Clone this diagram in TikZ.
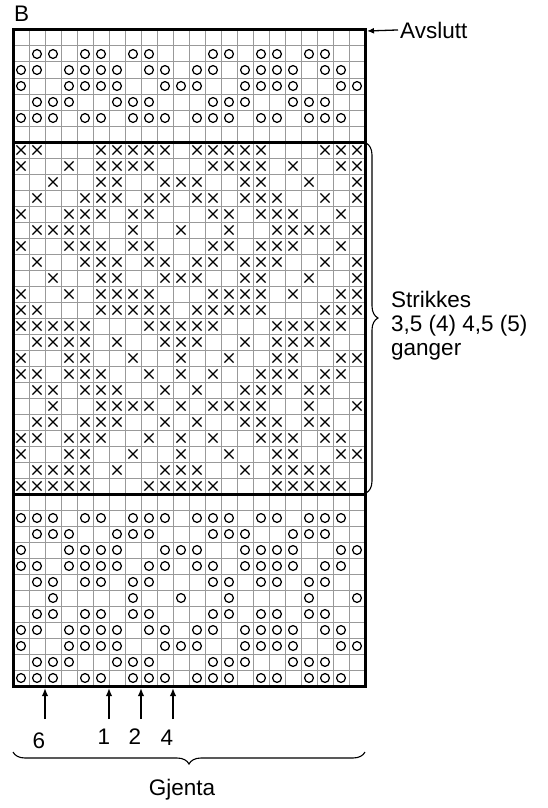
\documentclass[tikz,border=0pt]{standalone}
\usepackage{fontspec}
\setmainfont{Liberation Sans}
\usetikzlibrary{arrows.meta,decorations.pathreplacing}
\begin{document}
\begin{tikzpicture}[x=1pt,y=-1pt,
  gridline/.style={draw=black!40, line width=1pt},
  frame/.style={draw=black, line width=3pt},
  sym/.style={draw=black, line width=1.25pt},
  lbl/.style={inner sep=0pt, font=\fontsize{22.5}{25}\selectfont},
  uparrow/.style={draw=black, line width=1.6pt, -{Latex[length=8pt,width=6.5pt]}},
  bracestyle/.style={draw=black, line width=1.1pt, decorate, decoration={brace, amplitude=12pt}}]
\useasboundingbox (0,0) rectangle (548,808);
% grid
\foreach \k in {0,...,22} \draw[gridline] ({13+16*\k},30) -- ({13+16*\k},686);
\foreach \r in {0,...,41} \draw[gridline] (13,{30+16*\r}) -- (365,{30+16*\r});
% circles (top and bottom sections)
\foreach \r/\cols in {
  1/{1,2,4,5,7,8,12,13,15,16,18,19},
  2/{0,1,3,4,5,6,8,9,11,12,14,15,16,17,19,20},
  3/{0,3,4,5,6,9,10,11,14,15,16,17,20,21},
  4/{1,2,3,6,7,8,12,13,14,17,18,19},
  5/{0,1,2,4,5,7,8,9,11,12,13,15,16,18,19,20},
  30/{0,1,2,4,5,7,8,9,11,12,13,15,16,18,19,20},
  31/{1,2,3,6,7,8,12,13,14,17,18,19},
  32/{0,3,4,5,6,9,10,11,14,15,16,17,20,21},
  33/{0,1,3,4,5,6,8,9,11,12,14,15,16,17,19,20},
  34/{1,2,4,5,7,8,12,13,15,16,18,19},
  35/{2,7,10,13,18,21},
  36/{1,2,4,5,7,8,12,13,15,16,18,19},
  37/{0,1,3,4,5,6,8,9,11,12,14,15,16,17,19,20},
  38/{0,3,4,5,6,9,10,11,14,15,16,17,20,21},
  39/{1,2,3,6,7,8,12,13,14,17,18,19},
  40/{0,1,2,4,5,7,8,9,11,12,13,15,16,18,19,20}}
  {\foreach \c in \cols {\draw[sym] ({21+16*\c},{38+16*\r}) circle[radius=4.4];}}
% crosses (middle section)
\foreach \r/\cols in {
  7/{0,1,5,6,7,8,9,11,12,13,14,15,19,20,21},
  8/{0,3,5,6,7,8,12,13,14,15,17,20,21},
  9/{2,5,6,9,10,11,14,15,18,21},
  10/{1,4,5,6,8,9,11,12,14,15,16,19,21},
  11/{0,3,4,5,7,8,12,13,15,16,17,20},
  12/{1,2,3,4,7,10,13,16,17,18,19,21},
  13/{0,3,4,5,7,8,12,13,15,16,17,20},
  14/{1,4,5,6,8,9,11,12,14,15,16,19,21},
  15/{2,5,6,9,10,11,14,15,18,21},
  16/{0,3,5,6,7,8,12,13,14,15,17,20,21},
  17/{0,1,5,6,7,8,9,11,12,13,14,15,19,20,21},
  18/{0,1,2,3,4,8,9,10,11,12,16,17,18,19,20},
  19/{1,2,3,4,6,9,10,11,14,16,17,18,19},
  20/{0,3,4,7,10,13,16,17,20,21},
  21/{0,1,3,4,5,8,10,12,15,16,17,19,20},
  22/{1,2,4,5,6,9,11,14,15,16,18,19},
  23/{2,5,6,7,8,10,12,13,14,15,18,21},
  24/{1,2,4,5,6,9,11,14,15,16,18,19},
  25/{0,1,3,4,5,8,10,12,15,16,17,19,20},
  26/{0,3,4,7,10,13,16,17,20,21},
  27/{1,2,3,4,6,9,10,11,14,16,17,18,19},
  28/{0,1,2,3,4,8,9,10,11,12,16,17,18,19,20}}
  {\foreach \c in \cols {\draw[sym] ({21+16*\c},{38+16*\r}) +(-4.6,-4.6) -- +(4.6,4.6) +(-4.6,4.6) -- +(4.6,-4.6);}}
% frame and section lines
\coordinate (tl) at (13,30);
\coordinate (tr) at (365,30);
\coordinate (bl) at (13,686);
\coordinate (br) at (365,686);
\coordinate (s1l) at (13,142);
\coordinate (s1r) at (365,142);
\coordinate (s2l) at (13,494);
\coordinate (s2r) at (365,494);
\draw[frame] (tl) rectangle (br);
\draw[frame] (s1l) -- (s1r);
\draw[frame] (s2l) -- (s2r);
% labels
\node[lbl, anchor=base west] (B) at (14,22) {B};
\node[lbl, anchor=base west] (avsl) at (400,38) {Avslutt};
\coordinate (avtip) at (367,31);
\draw[draw=black, line width=1.3pt, -{Latex[length=7pt,width=6pt]}] ([xshift=-2pt]avsl.west) -- (avtip);
% right brace
\coordinate (rb1) at (366,143);
\coordinate (rb2) at (366,493);
\draw[bracestyle] (rb1) -- (rb2);
\node[lbl, anchor=base west] (st1) at (391,307) {Strikkes};
\node[lbl, anchor=base west] (st2) at (391,331) {3,5 (4) 4,5 (5)};
\node[lbl, anchor=base west] (st3) at (391,355) {ganger};
% arrows below
\node[lbl, anchor=base] (n6) at (39,748) {6};
\node[lbl, anchor=base] (n1) at (104,744) {1};
\node[lbl, anchor=base] (n2) at (135,744) {2};
\node[lbl, anchor=base] (n4) at (167,745) {4};
\foreach \x/\n in {45/a6, 109/a1, 141/a2, 173/a4} {
  \coordinate (\n t) at (\x,719);
  \coordinate (\n h) at (\x,688);
  \draw[uparrow] (\n t) -- (\n h);
}
% bottom brace
\coordinate (bb1) at (365,752);
\coordinate (bb2) at (13,752);
\draw[bracestyle] (bb1) -- (bb2);
\node[lbl, anchor=base] (gj) at (182,795) {Gjenta};
\end{tikzpicture}
\end{document}
